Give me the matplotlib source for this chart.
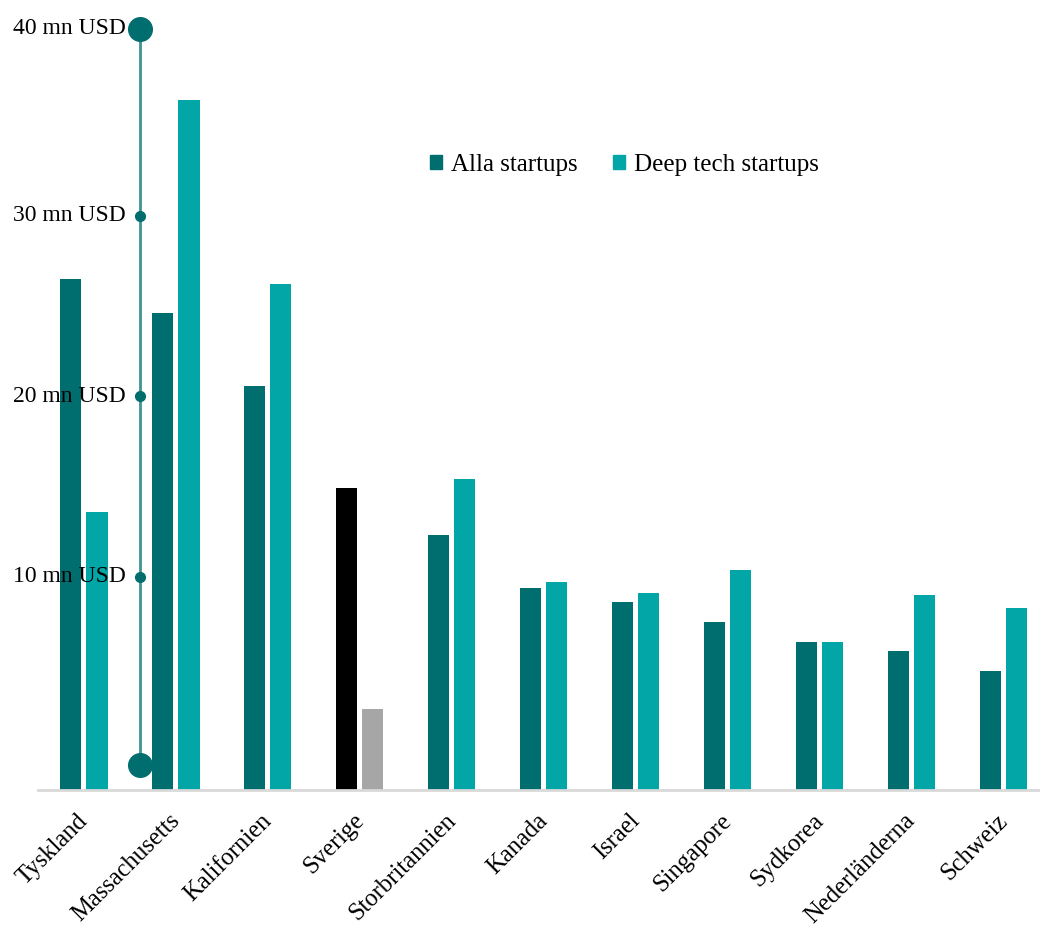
import matplotlib.pyplot as plt
import matplotlib.transforms as mtransforms
import numpy as np

# Data (mn USD)
countries = ['Tyskland', 'Massachusetts', 'Kalifornien', 'Sverige', 'Storbritannien',
             'Kanada', 'Israel', 'Singapore', 'Sydkorea', 'Nederländerna', 'Schweiz']
alla = [26.5, 24.6, 20.6, 14.9, 12.3, 9.4, 8.6, 7.5, 6.4, 5.9, 4.8]
deep = [13.6, 36.4, 26.2, 2.7, 15.4, 9.7, 9.1, 10.4, 6.4, 9.0, 8.3]
axis_ticks = [10, 20, 30, 40]
axis_labels = ['10 mn USD', '20 mn USD', '30 mn USD', '40 mn USD']
highlight = 'Sverige'

plt.rcParams['font.family'] = ['Liberation Serif', 'DejaVu Serif']

dark = '#006e6e'
light = '#03a6a6'

fig = plt.figure(figsize=(10.4, 9.26), dpi=100)
ax = fig.add_axes([38 / 1040, 136 / 926, 1 - 38 / 1040, 780 / 926])

x = np.arange(len(countries))
w = 0.23
off = 0.142
c1 = ['black' if c == highlight else dark for c in countries]
c2 = ['#a6a6a6' if c == highlight else light for c in countries]
base = -1.8
ax.bar(x - off, np.array(alla) - base, w, bottom=base, color=c1)
ax.bar(x + off, np.array(deep) - base, w, bottom=base, color=c2)
ax.set_ylim(base, 41.4)
ax.set_xlim(-0.5, 10.4)

# custom value axis with dots
xl = 0.609
ax.plot([xl, xl], [-0.4, 40.35], color='#3f9494', lw=2, zorder=1)
ax.plot([xl] * 3, axis_ticks[:3], 'o', color=dark, ms=7, zorder=3)
ax.plot([xl, xl], [-0.4, 40.35], 'o', color=dark, ms=17, zorder=3)
for t, lab in zip(axis_ticks, axis_labels):
    yy = 40.35 if t == 40 else t
    ax.text(xl - 0.15, yy, lab, ha='right', va='center', fontsize=17, zorder=4)

# legend
h1 = plt.Rectangle((0, 0), 1, 1, color=dark)
h2 = plt.Rectangle((0, 0), 1, 1, color=light)
ax.legend([h1, h2], ['Alla startups', 'Deep tech startups'], loc='center left',
          bbox_to_anchor=(0.391, 0.801), ncol=2, frameon=False, fontsize=18,
          handlelength=0.5, handleheight=0.5, handletextpad=0.35, columnspacing=1.4,
          borderaxespad=0, borderpad=0)

for s in ['top', 'right', 'left']:
    ax.spines[s].set_visible(False)
ax.spines['bottom'].set_color('#d9d9d9')
ax.spines['bottom'].set_linewidth(2)
ax.set_yticks([])
ax.set_xticks(x)
ax.set_xticklabels(countries, rotation=45, ha='right', rotation_mode='anchor', fontsize=17.7)
ax.tick_params(axis='x', length=0, pad=14)
shift = mtransforms.ScaledTranslation(-7 / 100, 0, fig.dpi_scale_trans)
for lab in ax.get_xticklabels():
    lab.set_transform(lab.get_transform() + shift)

plt.savefig('out.png', dpi=100)
